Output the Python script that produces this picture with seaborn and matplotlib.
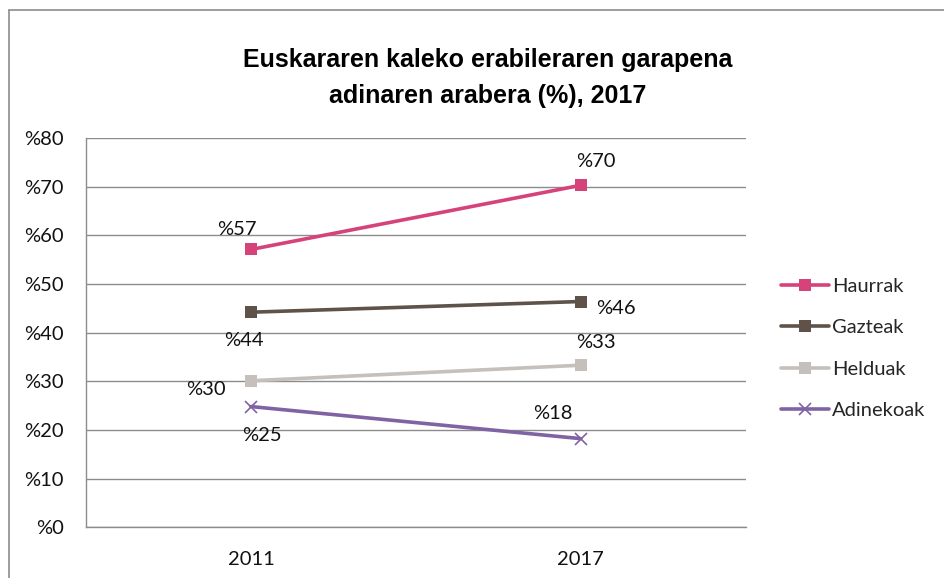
import matplotlib
matplotlib.use("Agg")
import matplotlib.pyplot as plt
import seaborn as sns
import pandas as pd
from matplotlib.lines import Line2D

years = ["2011", "2017"]
series = ["Haurrak", "Gazteak", "Helduak", "Adinekoak"]
haurrak = [57.1, 70.3]
gazteak = [44.2, 46.4]
helduak = [30.1, 33.3]
adinekoak = [24.8, 18.2]
yticks = [0, 10, 20, 30, 40, 50, 60, 70, 80]
colors = ["#d6427a", "#5f5349", "#c5c0bb", "#8063a3"]
marker_list = ["s", "s", "s", "x"]
title = "Euskararen kaleko erabileraren garapena\nadinaren arabera (%), 2017"

values = [haurrak, gazteak, helduak, adinekoak]
rows = []
for s, vals in zip(series, values):
    for y, v in zip(years, vals):
        rows.append({"Urtea": y, "Balioa": v, "Taldea": s})
df = pd.DataFrame(rows)

sns.set_theme(style="white")
plt.rcParams["font.family"] = ["Lato", "DejaVu Sans"]
FS = 14.5

fig = plt.figure(figsize=(9.45, 5.78), dpi=100)
ax = fig.add_axes([0.091, 0.088, 0.698, 0.673])

for s, c, m in zip(series, colors, marker_list):
    sub = df[df["Taldea"] == s]
    sns.lineplot(data=sub, x="Urtea", y="Balioa", color=c, marker=m,
                 linewidth=2.6, markersize=8, markeredgewidth=1.2 if m == "x" else 0,
                 markeredgecolor=c, ax=ax, sort=False)

# label offsets (points)
offsets = {
    ("Haurrak", 0): (-10, 8, "center", "bottom"),
    ("Haurrak", 1): (11, 11, "center", "bottom"),
    ("Gazteak", 0): (-5, -14, "center", "top"),
    ("Gazteak", 1): (11, -5, "left", "center"),
    ("Helduak", 0): (-18, -6, "right", "center"),
    ("Helduak", 1): (11, 10, "center", "bottom"),
    ("Adinekoak", 0): (8, -15, "center", "top"),
    ("Adinekoak", 1): (-20, 12, "center", "bottom"),
}
for s, vals in zip(series, values):
    for i, v in enumerate(vals):
        dx, dy, ha, va = offsets[(s, i)]
        ax.annotate(f"%{round(v):d}", (i, v), xytext=(dx, dy), textcoords="offset points",
                    ha=ha, va=va, fontsize=FS, color="#111111")

ax.set_xlim(-0.5, 1.5)
ax.set_ylim(0, 80)
ax.set_yticks(yticks)
ax.set_yticklabels([f"%{t}" for t in yticks], fontsize=FS, color="#111111")
ax.set_xticks([0, 1])
ax.set_xticklabels(years, fontsize=FS, color="#111111")
ax.set_xlabel("")
ax.set_ylabel("")
ax.yaxis.grid(True, color="#8c8c8c", linewidth=1.0)
ax.set_axisbelow(True)
for sp in ["top", "right"]:
    ax.spines[sp].set_visible(False)
for sp in ["left", "bottom"]:
    ax.spines[sp].set_color("#8c8c8c")
    ax.spines[sp].set_linewidth(1.0)
ax.tick_params(axis="y", length=0, pad=16)
ax.tick_params(axis="x", length=0, pad=17)

handles = [Line2D([0], [0], color=c, lw=2.6, marker=m,
                  markersize=8, markeredgewidth=(1.2 if m == "x" else 0), markeredgecolor=c)
           for c, m in zip(colors, marker_list)]
fig.legend(handles, series, loc="center left", bbox_to_anchor=(0.807, 0.397),
           frameon=False, fontsize=FS, handlelength=2.4, handletextpad=0.15,
           labelspacing=1.2)

fig.text(0.516, 0.865, title, ha="center", va="center", fontsize=18, fontweight="bold",
         family=["Liberation Sans", "DejaVu Sans"], linespacing=1.6, color="#000000")

# chart frame (partially visible)
fig.add_artist(Line2D([9.5 / 945, 9.5 / 945], [0, 1 - 10 / 578], transform=fig.transFigure,
                      color="#8c8c8c", lw=1.2))
fig.add_artist(Line2D([9.5 / 945, 1], [1 - 10 / 578, 1 - 10 / 578], transform=fig.transFigure,
                      color="#8c8c8c", lw=1.2))

fig.savefig("out.png", dpi=100)
